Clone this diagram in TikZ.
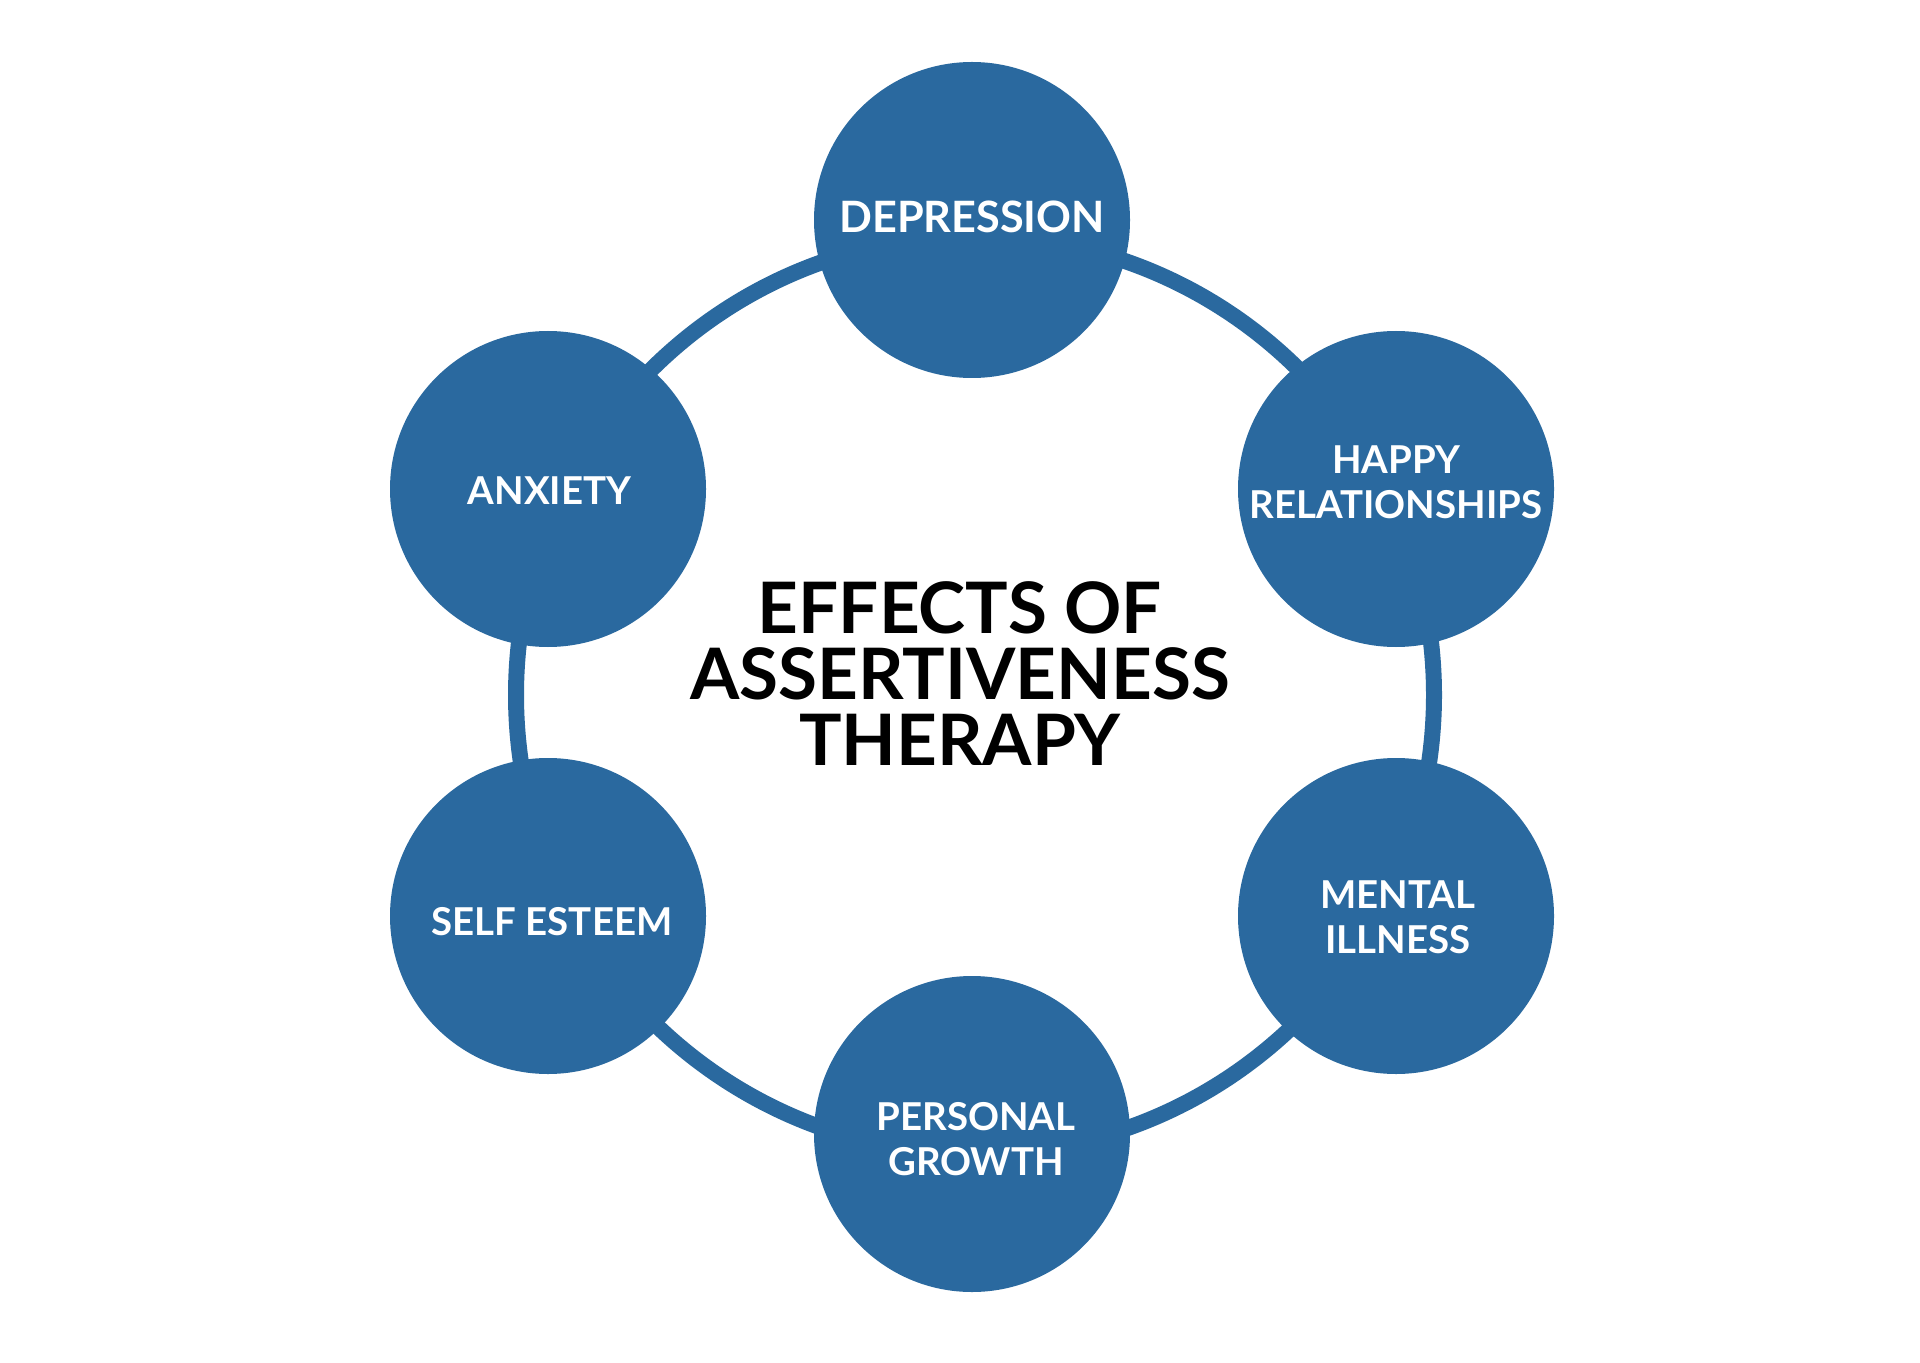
\documentclass[tikz,border=0pt]{standalone}
\usepackage{fontspec}
\setmainfont{Lato}
\definecolor{ringblue}{HTML}{2A699F}
\begin{document}
\begin{tikzpicture}[x=0.5pt,y=-0.5pt,
  bubble/.style={circle, fill=ringblue, minimum size=158pt, inner sep=0pt},
  bubbletext/.style={text=white, inner sep=0pt,
    font=\bfseries\fontsize{19.2}{22.5}\selectfont, align=center},
  ringline/.style={draw=ringblue, line width=8pt},
  titletext/.style={font=\bfseries\fontsize{35.5}{33}\selectfont, align=center, text=black, inner sep=0pt}]
\useasboundingbox[fill=white] (0,0) rectangle (1920,1363);
\coordinate (hub) at (975,695);
\draw[ringline] (hub) circle[radius=229.5pt];
\node[bubble] (dep) at (972,220) {};
\node[bubble] (hap) at (1396,489) {};
\node[bubble] (men) at (1396,916) {};
\node[bubble] (per) at (972,1134) {};
\node[bubble] (sel) at (548,916) {};
\node[bubble] (anx) at (548,489) {};
\node[bubbletext, font=\bfseries\fontsize{21.6}{25}\selectfont, yshift=1.5pt] (deplbl) at (dep) {DEPRESSION};
\node[bubbletext, yshift=3.5pt] (haplbl) at (hap) {HAPPY\\RELATIONSHIPS};
\node[bubbletext, xshift=1pt, yshift=-0.75pt] (menlbl) at (men) {MENTAL\\ILLNESS};
\node[bubbletext, xshift=2pt, yshift=-2.75pt] (perlbl) at (per) {PERSONAL\\GROWTH};
\node[bubbletext, xshift=2pt, yshift=-2.75pt] (sellbl) at (sel) {SELF ESTEEM};
\node[bubbletext, xshift=0.75pt, yshift=-1pt] (anxlbl) at (anx) {ANXIETY};
\node[titletext] (title) at (960,674) {EFFECTS OF\\ASSERTIVENESS\\THERAPY};
\end{tikzpicture}
\end{document}
